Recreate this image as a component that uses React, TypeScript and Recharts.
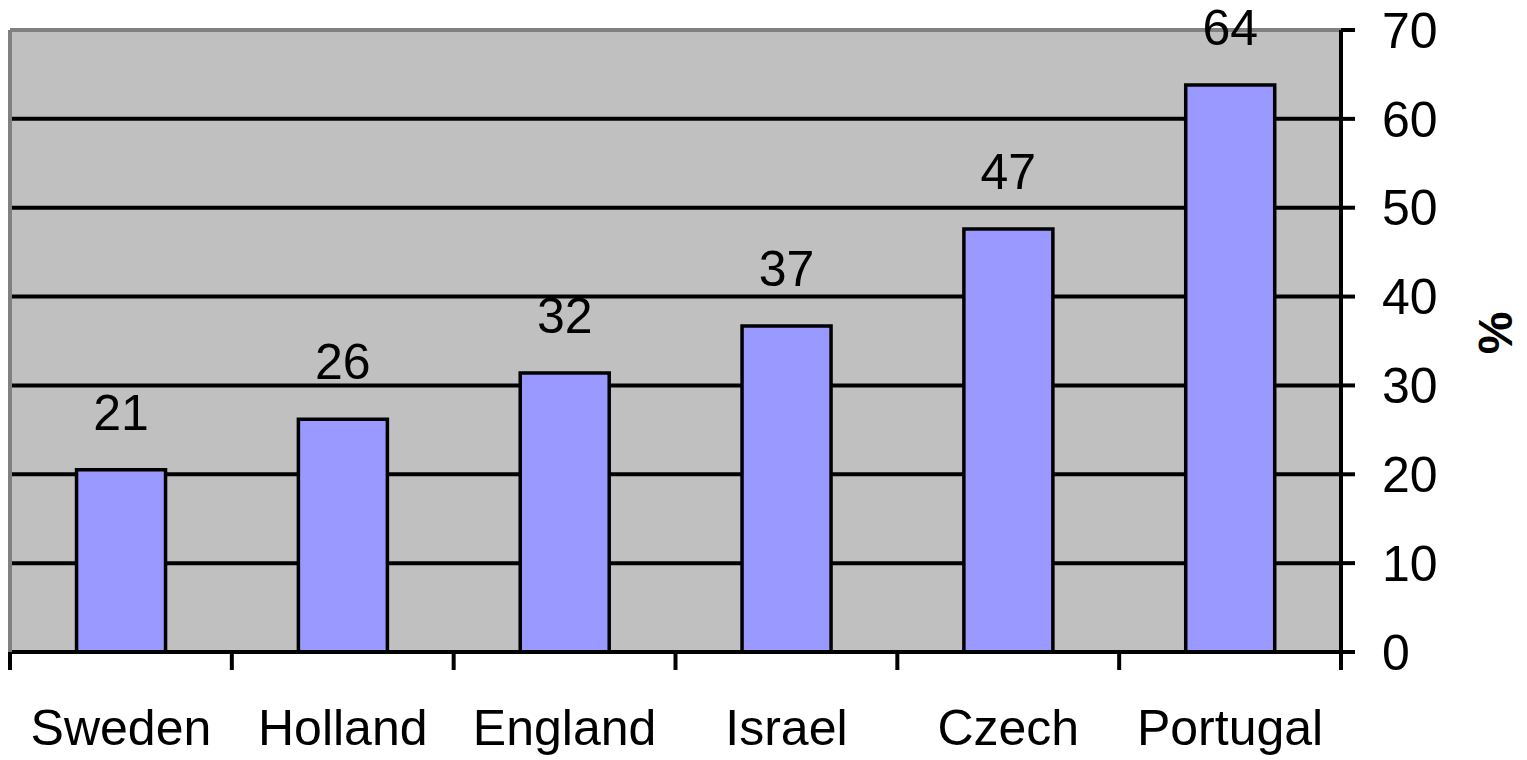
import { BarChart, Bar, XAxis, YAxis, CartesianGrid, LabelList, ReferenceLine, Label } from "recharts";

const countries = ["Sweden", "Holland", "England", "Israel", "Czech", "Portugal"];
const shares = [20.5, 26.2, 31.4, 36.7, 47.6, 63.8];
const shareLabels = ["21", "26", "32", "37", "47", "64"];
const yTicks = [0, 10, 20, 30, 40, 50, 60, 70];

const chartData = countries.map((country, i) => ({
  country,
  share: shares[i],
  label: shareLabels[i],
}));

const FONT = "'Liberation Sans', Arial, sans-serif";

// category label plus a tick mark on the band edges (Excel style)
function CategoryTick(props: any) {
  const { x, y, payload, index, visibleTicksCount, width } = props;
  const band = width / visibleTicksCount;
  const last = index === visibleTicksCount - 1;
  return (
    <g>
      <line x1={x - band / 2} x2={x - band / 2} y1={y} y2={y + 18} stroke="#000" strokeWidth={4} />
      {last && <line x1={x + band / 2} x2={x + band / 2} y1={y} y2={y + 18} stroke="#000" strokeWidth={4} />}
      <text x={x} y={y + 57} dy="0.71em" textAnchor="middle" fontSize={50} fill="#000" fontFamily={FONT}>
        {payload.value}
      </text>
    </g>
  );
}

function PercentLabel({ viewBox }: any) {
  const x = viewBox.x + viewBox.width - 32;
  const y = viewBox.y + viewBox.height / 2 - 8;
  return (
    <text
      x={x}
      y={y}
      transform={`rotate(-90, ${x}, ${y})`}
      textAnchor="middle"
      dominantBaseline="central"
      fontSize={48}
      fontWeight="bold"
      fill="#000"
      fontFamily={FONT}
    >
      %
    </text>
  );
}

export default function App() {
  return (
    <div style={{ position: "absolute", left: 0, top: 0, fontFamily: FONT }}>
      <BarChart
        width={1527}
        height={760}
        data={chartData}
        margin={{ top: 30, right: 0, left: 9, bottom: 0 }}
        barCategoryGap="30%"
      >
        <CartesianGrid vertical={false} stroke="#000" strokeWidth={4} fill="#C0C0C0" fillOpacity={1} />
        <XAxis
          dataKey="country"
          height={108}
          axisLine={{ stroke: "#000", strokeWidth: 4 }}
          tickLine={false}
          tickSize={0}
          tickMargin={0}
          interval={0}
          tick={<CategoryTick />}
        />
        <YAxis
          yAxisId="frame"
          orientation="left"
          width={1}
          domain={[0, 70]}
          tick={false}
          tickLine={false}
          axisLine={{ stroke: "#808080", strokeWidth: 4 }}
        />
        <YAxis
          orientation="right"
          width={186}
          domain={[0, 70]}
          ticks={yTicks}
          interval={0}
          tickSize={14}
          tickMargin={27}
          axisLine={{ stroke: "#000", strokeWidth: 4 }}
          tickLine={{ stroke: "#000", strokeWidth: 4 }}
          tick={{ fill: "#000", fontSize: 50, fontFamily: FONT }}
        >
          <Label content={<PercentLabel />} />
        </YAxis>
        <ReferenceLine y={70} stroke="#808080" strokeWidth={4} />
        <Bar dataKey="share" fill="#9999FF" stroke="#000" strokeWidth={3.5} isAnimationActive={false}>
          <LabelList
            dataKey="label"
            position="top"
            offset={40}
            fill="#000"
            fontSize={50}
            fontFamily={FONT}
          />
        </Bar>
      </BarChart>
    </div>
  );
}
